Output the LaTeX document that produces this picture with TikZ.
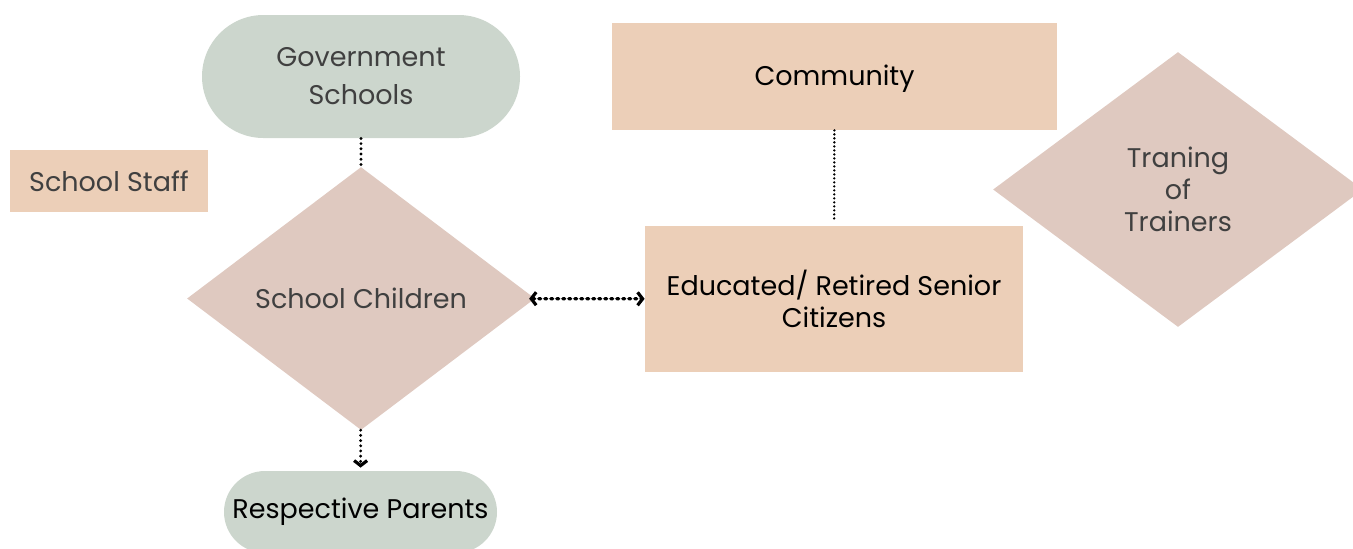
\documentclass[tikz,border=0pt]{standalone}
\usepackage{fontspec}
\setmainfont{Poppins}
\usetikzlibrary{shapes.geometric,arrows.meta}
\definecolor{sage}{HTML}{CCD6CD}
\definecolor{peach}{HTML}{ECCFB8}
\definecolor{rose}{HTML}{DFC9C0}
\definecolor{ink}{HTML}{404040}
\begin{document}
\begin{tikzpicture}[x=0.5pt,y=-0.5pt,
            every node/.style={align=center, inner sep=0pt, font=\fontsize{13.5}{19}\selectfont},
            pill/.style={fill=sage, rectangle, rounded corners=#1},
            box/.style={fill=peach, rectangle},
            gem/.style={fill=rose, diamond},
            link/.style={draw, line width=1.6pt, line cap=round, dash pattern=on 0pt off 2.6pt},
            >={Straight Barb[length=2.5pt,width=6.5pt]}]
        \useasboundingbox (0,0) rectangle (1353,548);
        \node [pill=30.75pt, minimum width=159pt, minimum height=61.5pt, text=ink] (gov) at (361,76.5) {Government\\Schools};
        \node [box, minimum width=99pt, minimum height=31pt, text=ink] (staff) at (109,181) {School Staff};
        \node [gem, minimum width=174pt, minimum height=131.5pt, text=ink] (kids) at (361,298.5) {School Children};
        \node [pill=20.5pt, minimum width=136.5pt, minimum height=41pt] (parents) at (360.5,512) {Respective Parents};
        \node [box, minimum width=222.5pt, minimum height=53.5pt, text depth=1pt] (comm) at (834.5,76.5) {Community};
        \node [box, minimum width=189pt, minimum height=73pt, font=\fontsize{13.5}{16}\selectfont] (elders) at (834,299) {Educated/ Retired Senior\\Citizens};
        \node [gem, minimum width=185pt, minimum height=137.5pt, text=ink, font=\fontsize{13.5}{16}\selectfont] (tot) at (1178,189.5) {Traning\\of\\Trainers};
        % links
        \draw [link] (gov) -- (kids);
        \draw [link, line width=1.3pt, dash pattern=on 0pt off 2pt, shorten >=2pt] (comm) -- (elders);
        \draw [link, dash pattern=on 1pt off 2pt, <->, shorten <=-3pt] (kids) -- (elders);
        \draw [link, ->, shorten >=1.5pt] (kids) -- (parents);
    \end{tikzpicture}
\end{document}
